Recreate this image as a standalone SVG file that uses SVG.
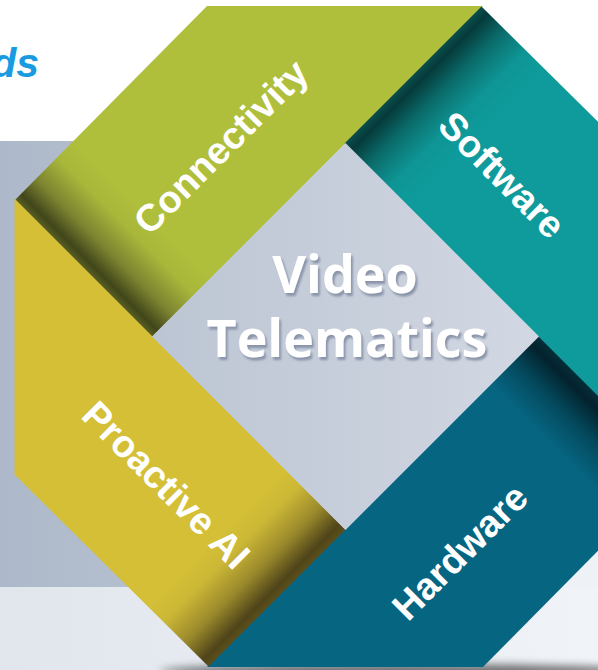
<svg xmlns="http://www.w3.org/2000/svg" width="598" height="670" viewBox="0 0 598 670">
  <defs>
    <style>
      .lbl { font-family: "Liberation Sans", Arial, sans-serif; font-weight: bold; font-size: 38px; fill: #ffffff; text-anchor: middle; }
      .title { font-family: "Open Sans", "Liberation Sans", sans-serif; font-weight: 700; font-size: 52px; fill: #ffffff; text-anchor: middle; filter: url(#tshadow); }
      .head { font-family: "Liberation Sans", Arial, sans-serif; font-weight: bold; font-style: italic; font-size: 41px; fill: #1a9ae0; text-anchor: end; }
    </style>
    <linearGradient id="panelG" x1="0" y1="0" x2="1" y2="0">
      <stop offset="0" stop-color="#adb9ca"/>
      <stop offset="1" stop-color="#bcc6d3"/>
    </linearGradient>
    <linearGradient id="floorG" x1="0" y1="0" x2="1" y2="0">
      <stop offset="0" stop-color="#e1e6ed"/>
      <stop offset="1" stop-color="#f0f3f7"/>
    </linearGradient>
    <linearGradient id="diamondG" gradientUnits="userSpaceOnUse" x1="152" y1="0" x2="540" y2="0">
      <stop offset="0" stop-color="#bcc5d3"/>
      <stop offset="1" stop-color="#d2d8e3"/>
    </linearGradient>
    <linearGradient id="greenG" gradientUnits="userSpaceOnUse" x1="83.5" y1="268.5" x2="143.5" y2="208.5">
      <stop offset="0" stop-color="#5b5f24"/>
      <stop offset="0.1" stop-color="#41461a"/>
      <stop offset="0.35" stop-color="#7c8330"/>
      <stop offset="0.7" stop-color="#a8b63a"/>
      <stop offset="1" stop-color="#b0bf3b"/>
    </linearGradient>
    <linearGradient id="tealG" gradientUnits="userSpaceOnUse" x1="414.5" y1="74.5" x2="474.5" y2="134.5">
      <stop offset="0" stop-color="#0b4d4c"/>
      <stop offset="0.1" stop-color="#063a3b"/>
      <stop offset="0.38" stop-color="#0b6d6c"/>
      <stop offset="0.72" stop-color="#0e9494"/>
      <stop offset="1" stop-color="#0f9b9b"/>
    </linearGradient>
    <linearGradient id="blueG" gradientUnits="userSpaceOnUse" x1="606.5" y1="404.5" x2="546.5" y2="464.5">
      <stop offset="0" stop-color="#052f3b"/>
      <stop offset="0.12" stop-color="#03222d"/>
      <stop offset="0.42" stop-color="#04495c"/>
      <stop offset="0.78" stop-color="#066480"/>
      <stop offset="1" stop-color="#066682"/>
    </linearGradient>
    <linearGradient id="yellowG" gradientUnits="userSpaceOnUse" x1="277" y1="598" x2="217" y2="538">
      <stop offset="0" stop-color="#5a4f1c"/>
      <stop offset="0.1" stop-color="#4f4519"/>
      <stop offset="0.4" stop-color="#9b8a2c"/>
      <stop offset="0.75" stop-color="#ccb836"/>
      <stop offset="1" stop-color="#d4bf37"/>
    </linearGradient>
    <filter id="tshadow" x="-10%" y="-20%" width="120%" height="150%">
      <feDropShadow dx="2" dy="3" stdDeviation="1" flood-color="#8a94aa" flood-opacity="1"/>
    </filter>
    <filter id="blur4" x="-20%" y="-200%" width="140%" height="500%">
      <feGaussianBlur stdDeviation="4"/>
    </filter>
  </defs>

  <!-- background -->
  <rect x="0" y="0" width="598" height="670" fill="#ffffff"/>
  <rect x="0" y="141" width="320" height="446" fill="url(#panelG)"/>
  <rect x="320" y="420" width="278" height="167" fill="#eef1f5"/>
  <rect x="0" y="587" width="598" height="83" fill="url(#floorG)"/>
  <ellipse cx="400" cy="671" rx="240" ry="7" fill="#000000" opacity="0.55" filter="url(#blur4)"/>
  <text class="head" x="39" y="77">ds</text>

  <g id="connectors"></g>

  <g id="connectivity">
    <polygon points="207,6 483,6 152,337 15,200" fill="url(#greenG)"/>
    <text class="lbl" transform="translate(221,147) rotate(-45)" x="0" y="13">Connectivity</text>
  </g>

  <g id="software">
    <polygon points="481.5,6.5 675.5,198.5 675.5,474.5 344.5,143.5" fill="url(#tealG)"/>
    <text class="lbl" transform="translate(502,175) rotate(45)" x="0" y="13">Software</text>
  </g>

  <g id="hardware">
    <polygon points="483,667 207,667 538,336 675,473" fill="url(#blueG)"/>
    <text class="lbl" transform="translate(460,552) rotate(-45)" x="0" y="13">Hardware</text>
  </g>

  <g id="proactive-ai">
    <polygon points="208.5,666.5 14.5,474.5 14.5,198.5 345.5,529.5" fill="url(#yellowG)"/>
    <text class="lbl" transform="translate(166,485) rotate(45)" x="0" y="13">Proactive AI</text>
  </g>

  <g id="video-telematics">
    <polygon points="345.5,143 539,336.5 345.5,530 152,336.5" fill="url(#diamondG)"/>
    <text class="title" x="345" y="293">Video</text>
    <text class="title" x="347" y="357">Telematics</text>
  </g>
</svg>
